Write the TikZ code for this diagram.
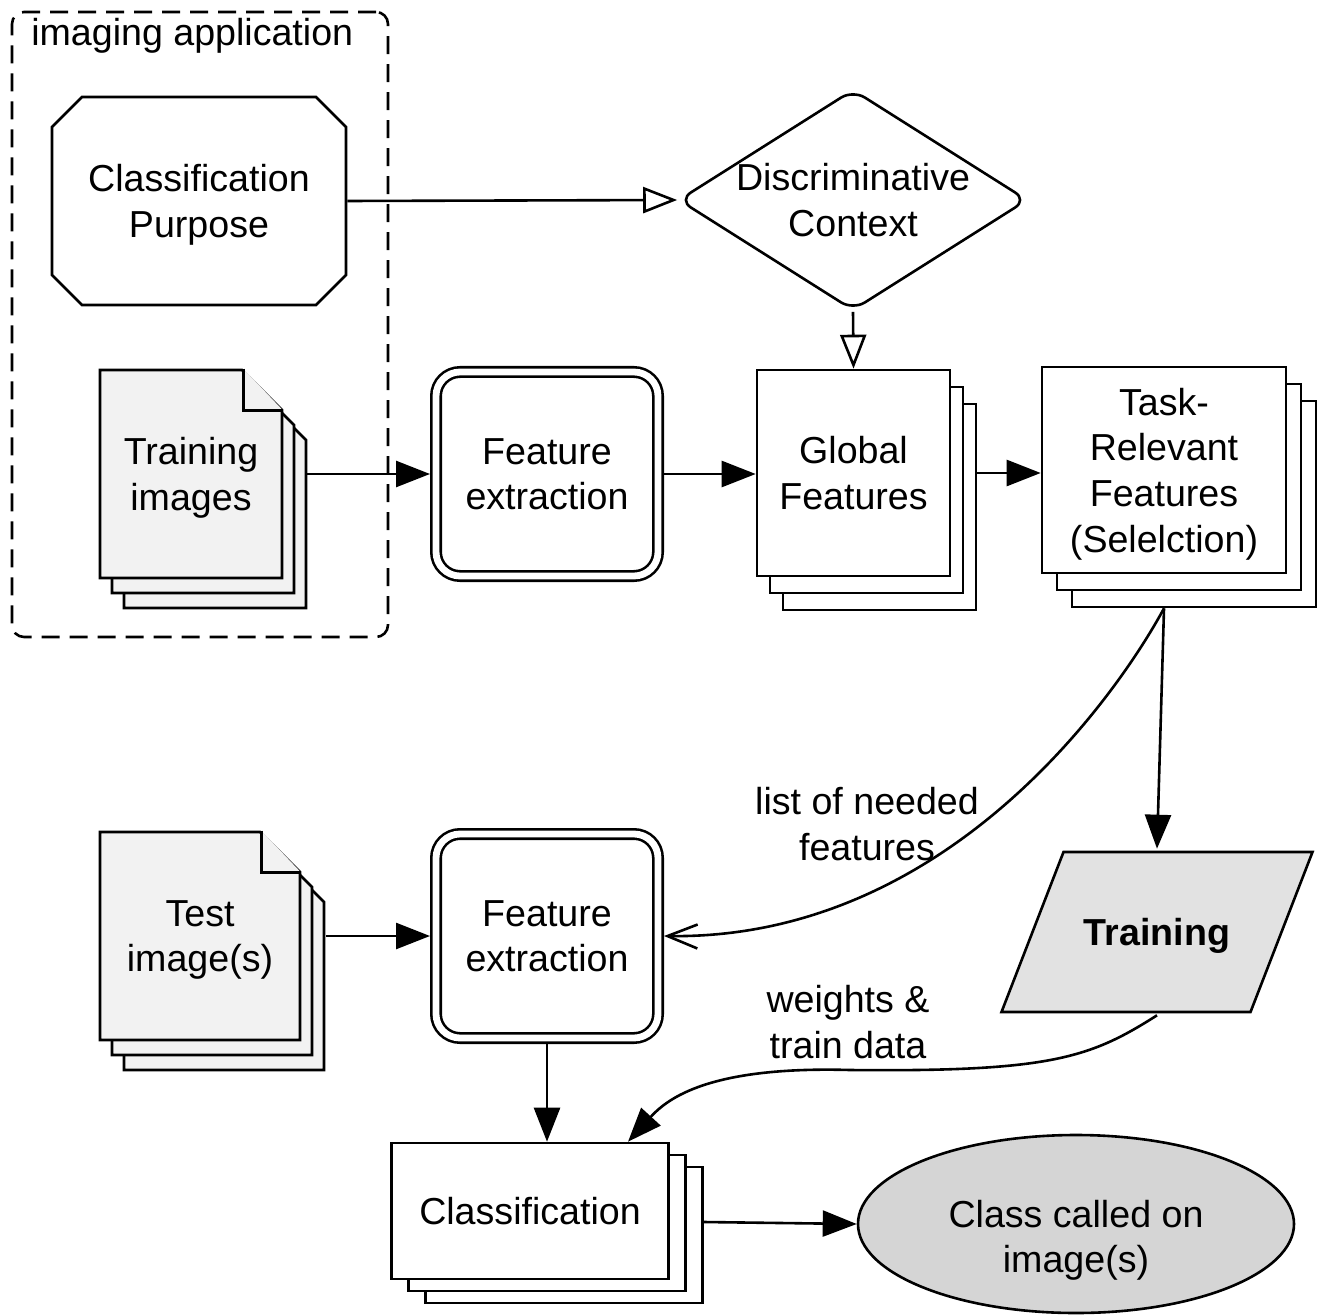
\documentclass[tikz,border=0pt]{standalone}
\usepackage{fontspec}
\setmainfont{Liberation Sans}
\usetikzlibrary{arrows.meta,shapes.geometric,shapes.misc,shadows}

\definecolor{sheetgray}{HTML}{F2F2F2}
\definecolor{traingray}{HTML}{E2E2E2}
\definecolor{classgray}{HTML}{D5D5D5}

\begin{document}
\begin{tikzpicture}[
      x=0.5pt, y=-0.5pt, line width=1.3pt,
      font=\fontsize{18.8}{22.8}\selectfont,
      every node/.style={text depth=0pt},
      frame/.style={draw, rounded corners=6pt, dash pattern=on 9pt off 5pt},
      box/.style={draw, fill=white, align=center, inner sep=0pt},
      edgetext/.style={align=center, inner sep=0pt},
      stack/.style n args={3}{
        copy shadow={shadow xshift=2*#1, shadow yshift=-2*#2, fill=#3, draw=black, line width=1.3pt},
        copy shadow={shadow xshift=#1, shadow yshift=-#2, fill=#3, draw=black, line width=1.3pt}},
      doc/.style={box, fill=sheetgray, chamfered rectangle, chamfered rectangle corners=north east,
        chamfered rectangle sep=10pt, stack={6pt}{7.5pt}{sheetgray}},
      fold/.style={draw, fill=sheetgray},
      fe/.style={draw, double=white, double distance=3.4pt, rounded corners=12pt, align=center,
        minimum width=111pt, minimum height=102pt, outer sep=3pt},
      slanted/.style={box, draw=none, fill=none, minimum width=157.5pt, minimum height=82pt,
        path picture={\draw[fill=traingray]
          ([shift={(1pt,1pt)}]path picture bounding box.south west)
          -- ([shift={(-32pt,1pt)}]path picture bounding box.south east)
          -- ([shift={(-1pt,-1pt)}]path picture bounding box.north east)
          -- ([shift={(32pt,-1pt)}]path picture bounding box.north west) -- cycle;}},
      arrow/.style={-{Triangle[length=17pt,width=13pt]}},
      hollow/.style={-{Triangle[open,length=17pt,width=13pt]}},
      barb/.style={-{Straight Barb[length=15pt,width=12pt]}}
      ]
    \useasboundingbox (0,0) rectangle (1326,1315);

    % imaging application
    \node[frame, minimum width=188pt, minimum height=312.5pt] (app) at (200,324.5) {};
    \node[anchor=base west, inner sep=0pt] (applabel) at (30,46) {imaging application};
    \node[box, chamfered rectangle, chamfered rectangle sep=7.5pt, minimum width=147pt, minimum height=104pt]
      (purpose) at (199,201) {Classification\\Purpose};
    \node[doc, minimum width=91pt, minimum height=104pt] (trainimg) at (191,474) {Training\\images};

    % top row
    \node[box, diamond, aspect=1.58, rounded corners=7pt, minimum width=171pt, minimum height=108pt]
      (context) at (853,200) {Discriminative\\Context};
    \node[fe] (fe1) at (547,474) {Feature\\extraction};
    \node[box, stack={6.5pt}{8.5pt}{white}, minimum width=96.5pt, minimum height=103pt]
      (global) at (853.5,473) {Global\\Features};
    \node[box, stack={7.5pt}{8.5pt}{white}, minimum width=122pt, minimum height=103pt]
      (task) at (1164,470) {Task-\\Relevant\\Features\\(Selelction)};

    % bottom part
    \node[doc, minimum width=100pt, minimum height=104pt] (testimg) at (200,936) {Test\\image(s)};
    \node[fe] (fe2) at (547,936) {Feature\\extraction};
    \node[slanted] (training) at (1157,932) {\textbf{Training}};
    \node[box, stack={8.5pt}{6pt}{white}, minimum width=138.5pt, minimum height=68pt]
      (classify) at (530,1211) {Classification};
    \node[box, ellipse, fill=classgray, minimum width=218pt, minimum height=89pt]
      (result) at (1076,1224) {\rule{0pt}{26pt}Class called on\\image(s)};

    \node[edgetext] (needlabel) at (867,824) {list of needed\\features};
    \node[edgetext] (weightlabel) at (848,1022) {weights \&\\train data};

    % folded corners of the image sheets
    \foreach \sheet in {trainimg,testimg}
      \draw[fold] ([xshift=-20pt]\sheet.north -| \sheet.east) |- ([yshift=-21pt]\sheet.north -| \sheet.east);

    % connectors
    \draw[hollow] (purpose.east) -- (context.west);
    \draw[hollow] (context.south) -- (global.north);
    \draw[arrow] ([xshift=12pt]trainimg.east) -- (fe1.west);
    \draw[arrow] (fe1.east) -- (global.west |- fe1.east);
    \draw[arrow] ([xshift=13pt]global.east) -- (task.west |- global.east);
    \draw[arrow] ([yshift=-17pt]task.south) -- (training.north);
    \draw[barb] ([yshift=-17pt]task.south) .. controls (1120,690) and (950,940) .. (fe2.east);
    \draw[arrow] ([xshift=12.5pt]testimg.east) -- (fe2.west);
    \draw[arrow] (fe2.south) -- (fe2.south |- classify.north);
    \draw[arrow] (training.south) .. controls (1090,1058) and (1050,1072) .. (850,1070)
      .. controls (710,1066) and (668,1098) .. ([xshift=49pt]classify.north);
    \draw[arrow] ([xshift=17pt,yshift=-5.5pt]classify.east) -- (result.west);

    \end{tikzpicture}
\end{document}
